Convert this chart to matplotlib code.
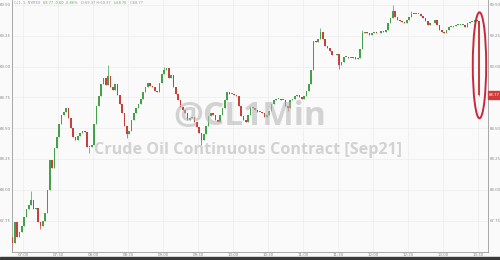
import numpy as np
import matplotlib
matplotlib.use("Agg")
import matplotlib.pyplot as plt
from matplotlib.patches import Ellipse, Rectangle

# 2-minute candles starting 06:51, minutes relative to 07:00
START_MIN = -9
STEP_MIN = 2
FIRST_OPEN = 67.62

closes = [
    67.57, 67.74, 67.62, 67.66, 67.71, 67.78, 67.84, 67.88, 67.92, 67.84,
    67.85, 67.74, 67.71, 67.75, 67.81, 68.00, 68.24, 68.18, 68.34, 68.43,
    68.53, 68.61, 68.63, 68.66, 68.58, 68.50, 68.43, 68.40, 68.44, 68.46,
    68.48, 68.47, 68.35, 68.35, 68.36, 68.53, 68.68, 68.76, 68.86, 68.91,
    68.85, 68.92, 68.83, 68.81, 68.86, 68.77, 68.70, 68.62, 68.52, 68.45,
    68.48, 68.57, 68.62, 68.66, 68.70, 68.74, 68.79, 68.83, 68.87, 68.84,
    68.83, 68.80, 68.79, 68.87, 68.94, 68.97, 68.99, 68.91, 68.93, 68.83,
    68.78, 68.73, 68.67, 68.65, 68.62, 68.57, 68.58, 68.59, 68.55, 68.51,
    68.46, 68.40, 68.45, 68.52, 68.60, 68.62, 68.61, 68.57, 68.55, 68.61,
    68.66, 68.73, 68.79, 68.78, 68.78, 68.77, 68.76, 68.68, 68.60, 68.57,
    68.55, 68.61, 68.67, 68.66, 68.65, 68.63, 68.63, 68.62, 68.59, 68.61,
    68.64, 68.70, 68.73, 68.74, 68.74, 68.73, 68.73, 68.68, 68.66, 68.73,
    68.74, 68.76, 68.77, 68.75, 68.74, 68.76, 68.80, 68.86, 68.97, 69.21,
    69.20, 69.22, 69.28, 69.22, 69.17, 69.15, 69.13, 69.09, 69.09, 69.10,
    69.01, 69.04, 69.08, 69.08, 69.07, 69.07, 69.08, 69.06, 69.07, 69.14,
    69.27, 69.28, 69.27, 69.26, 69.27, 69.28, 69.27, 69.27, 69.29, 69.28,
    69.30, 69.35, 69.39, 69.45, 69.40, 69.38, 69.37, 69.36, 69.35, 69.38,
    69.40, 69.43, 69.43, 69.43, 69.43, 69.41, 69.39, 69.37, 69.34, 69.35,
    69.35, 69.38, 69.34, 69.30, 69.28, 69.27, 69.30, 69.32, 69.32, 69.33,
    69.34, 69.34, 69.34, 69.34, 69.32, 69.35, 69.36, 69.36, 69.38, 69.37,
    68.77,
]

# notable wick extremes (candle index -> price)
spike_highs = {8: 67.99, 41: 69.01, 65: 69.00, 132: 69.31, 150: 69.30,
               163: 69.50, 171: 69.45}
spike_lows = {0: 67.50, 12: 67.68, 33: 68.30, 49: 68.42, 81: 68.36,
              118: 68.64, 140: 68.98, 200: 68.76}

x_tick_labels = ["07:00", "07:30", "08:00", "08:30", "09:00", "09:30", "10:00",
                 "10:30", "11:00", "11:30", "12:00", "12:30", "13:00", "13:30"]
y_ticks = [67.75, 68.00, 68.25, 68.50, 68.75, 69.00, 69.25, 69.50]
last_price = closes[-1]

# header line pieces (text, colour)
info = [("CL1, 1, NYMEX", "#9a9a9a"),
        ("68.77 -0.60 -0.86%", "#5cb85c"),
        ("O:69.37 H:69.37", "#9a9a9a"),
        ("L:68.76", "#5cb85c"),
        ("C:68.77", "#9a9a9a")]

UP = "#45a04a"
DOWN = "#c8403a"
BG = "#fafafa"

closes = np.array(closes)
opens = np.concatenate([[FIRST_OPEN], closes[:-1]])
highs = np.maximum(opens, closes)
lows = np.minimum(opens, closes)
for k, v in spike_highs.items():
    highs[k] = max(highs[k], v)
for k, v in spike_lows.items():
    lows[k] = min(lows[k], v)
xs = START_MIN + STEP_MIN * np.arange(len(closes))

fig = plt.figure(figsize=(5, 2.6), dpi=100)
fig.patch.set_facecolor(BG)
ax = fig.add_axes([12 / 500, 8 / 260, 476 / 500, 252 / 260])
ax.set_facecolor(BG)

colors = [UP if c >= o else DOWN for o, c in zip(opens, closes)]
ax.vlines(xs, lows, highs, colors=colors, linewidth=0.5, zorder=2)
body = np.maximum(np.abs(closes - opens), 0.006)
ax.bar(xs, body, bottom=np.minimum(opens, closes), width=1.4,
       color=colors, linewidth=0, zorder=3)

ax.set_xlim(-9.4, 398.6)
ax.set_ylim(67.495, 69.54)
ax.set_xticks(np.arange(len(x_tick_labels)) * 30)
ax.set_xticklabels(x_tick_labels)
ax.set_yticks(y_ticks)
ax.set_yticklabels([f"{v:.2f}" for v in y_ticks])
ax.grid(True, color="#ececec", linewidth=0.5, zorder=0)
ax.tick_params(axis="both", length=0, labelsize=2.8, colors="#888888", pad=1)
ax.tick_params(axis="y", labelleft=True, labelright=True)
ax.tick_params(axis="x", pad=0.6)
ax.spines["top"].set_visible(False)
for side in ["left", "right", "bottom"]:
    ax.spines[side].set_color("#9a9a9a")
    ax.spines[side].set_linewidth(0.6)

# highlight of the last candle
ax.add_patch(Ellipse((391.3, 69.01), 11.5, 0.86, fill=False,
                     edgecolor="#c8283c", linewidth=1.4, zorder=5))

# last price tag on the right axis
fig.patches.append(Rectangle((488 / 500, 1 - 99 / 260), 12 / 500, 8 / 260,
                             transform=fig.transFigure, color="#d03a3a",
                             zorder=6))
fig.text(494 / 500, 1 - 95 / 260, f"{last_price:.2f}", fontsize=2.8,
         color="white", ha="center", va="center", zorder=7)

# watermark
fig.text(0.5, 1 - 116.5 / 260, "@CL1Min", fontsize=24, fontweight="bold",
         family="Open Sans", color="#b8b8b8", alpha=0.6,
         ha="center", va="center", zorder=8)
fig.text(0.497, 1 - 149.5 / 260, "Crude Oil Continuous Contract [Sep21]",
         fontsize=11.6, fontweight="bold", family="Open Sans",
         color="#b8b8b8", alpha=0.6, ha="center", va="center", zorder=8)

# header line, pieces laid out one after the other
renderer = fig.canvas.get_renderer()
px = 14
for txt, col in info:
    t = fig.text(px / 500, 1 - 2.5 / 260, txt, fontsize=2.6, color=col,
                 ha="left", va="center")
    px = t.get_window_extent(renderer).x1 + 3

# dark strip at the very bottom
fig.patches.append(Rectangle((0, 0), 1, 3 / 260, transform=fig.transFigure,
                             color="#3a3a3a", zorder=1))

fig.savefig("out.png", dpi=100, facecolor=BG)
